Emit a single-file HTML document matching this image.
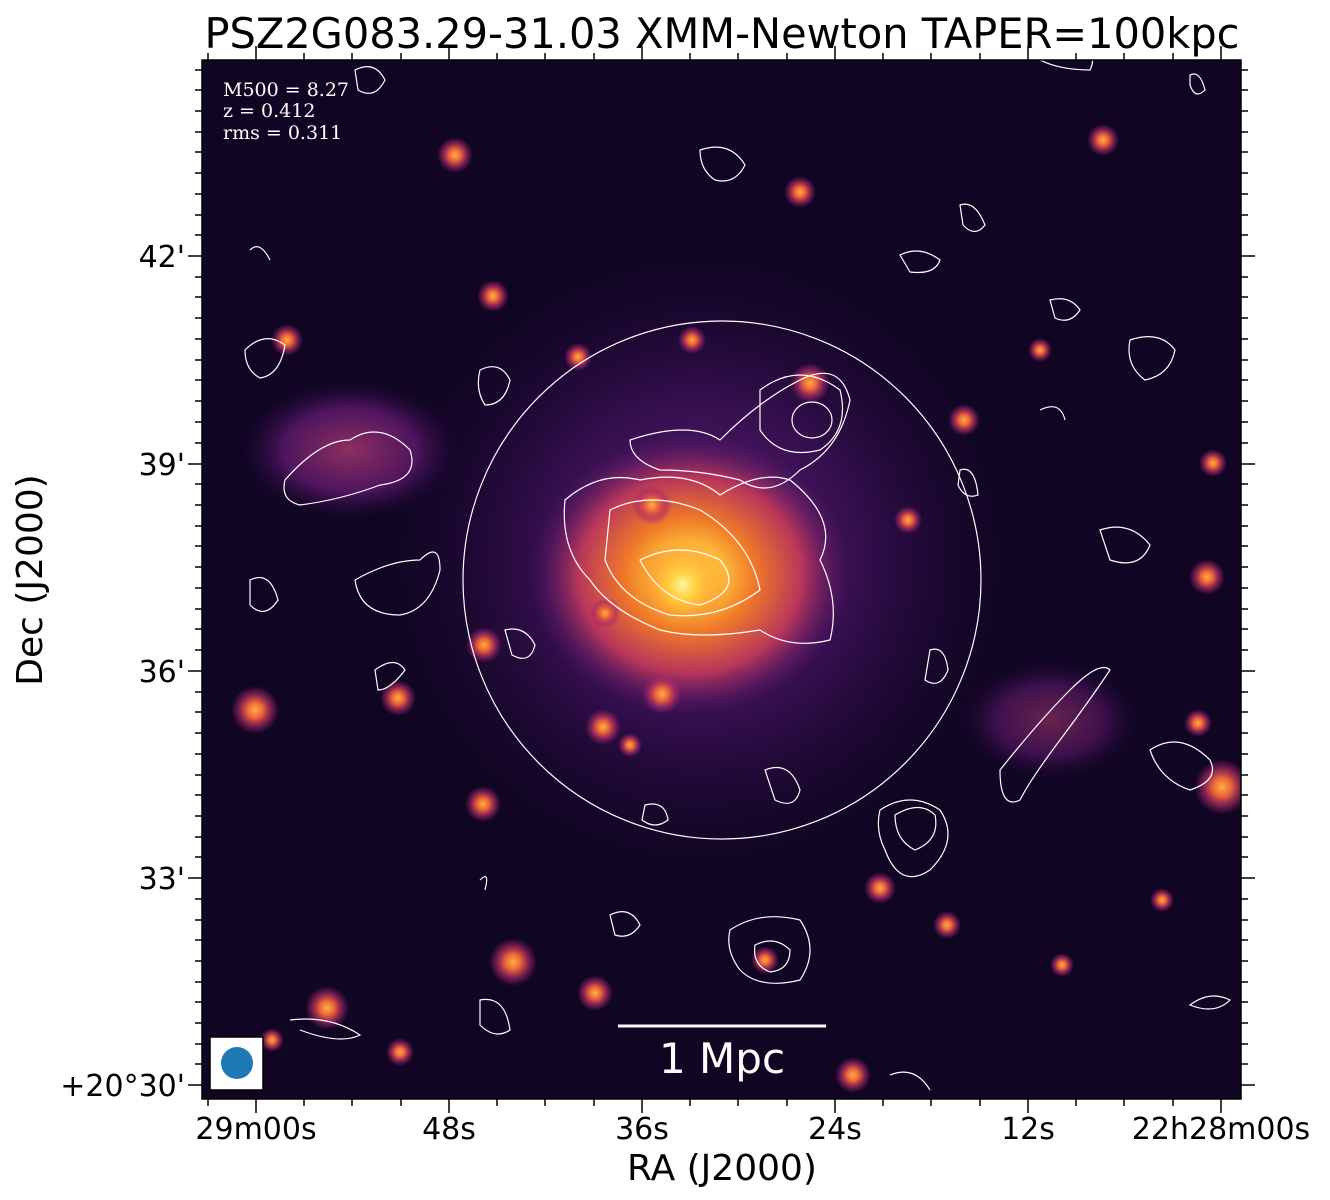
<!DOCTYPE html>
<html><head><meta charset="utf-8"><style>
body{margin:0;background:#fff;}
svg{display:block;}
</style></head><body>
<svg width="1330" height="1200" viewBox="0 0 1330 1200" xmlns="http://www.w3.org/2000/svg">
<defs>
<radialGradient id="halo"><stop offset="0" stop-color="#7a2a8a" stop-opacity="0.9"/><stop offset="0.5" stop-color="#4a1468" stop-opacity="0.6"/><stop offset="1" stop-color="#1a0630" stop-opacity="0"/></radialGradient>
<radialGradient id="core"><stop offset="0" stop-color="#fff27a"/><stop offset="0.15" stop-color="#ffd040"/><stop offset="0.4" stop-color="#f07a28"/><stop offset="0.7" stop-color="#b8365a"/><stop offset="1" stop-color="#5a1670" stop-opacity="0"/></radialGradient>
<radialGradient id="pt"><stop offset="0" stop-color="#ffb040"/><stop offset="0.35" stop-color="#e8603a"/><stop offset="0.7" stop-color="#b02a6a" stop-opacity="0.6"/><stop offset="1" stop-color="#9a2a6a" stop-opacity="0"/></radialGradient>
<radialGradient id="ptb"><stop offset="0" stop-color="#fff59a"/><stop offset="0.3" stop-color="#ffd040"/><stop offset="0.65" stop-color="#ffa030" stop-opacity="0.6"/><stop offset="1" stop-color="#f08030" stop-opacity="0"/></radialGradient>
<radialGradient id="ptd"><stop offset="0" stop-color="#c0407a"/><stop offset="0.6" stop-color="#6a1c78"/><stop offset="1" stop-color="#2a0848" stop-opacity="0"/></radialGradient>
<clipPath id="clip"><rect x="202" y="60" width="1039" height="1039"/></clipPath>
</defs>
<g clip-path="url(#clip)">
<rect x="202" y="60" width="1039" height="1039" fill="#100522"/>
<circle cx="700" cy="560" r="330" fill="url(#halo)"/>
<ellipse cx="350" cy="450" rx="110" ry="70" fill="url(#ptd)" opacity="0.7"/>
<ellipse cx="1050" cy="720" rx="90" ry="60" fill="url(#ptd)" opacity="0.5"/>
<ellipse cx="690" cy="575" rx="160" ry="140" fill="url(#core)"/>
<circle cx="683" cy="585" r="45" fill="url(#ptb)"/>
<g fill="url(#pt)">
<circle cx="455" cy="155" r="18"/><circle cx="800" cy="192" r="16"/><circle cx="493" cy="296" r="16"/>
<circle cx="287" cy="340" r="16"/><circle cx="578" cy="357" r="14"/><circle cx="692" cy="340" r="14"/>
<circle cx="810" cy="383" r="20"/><circle cx="964" cy="420" r="16"/><circle cx="1213" cy="463" r="14"/>
<circle cx="652" cy="505" r="20"/><circle cx="908" cy="520" r="14"/><circle cx="1207" cy="577" r="18"/>
<circle cx="605" cy="613" r="16"/><circle cx="484" cy="645" r="18"/><circle cx="255" cy="710" r="24"/>
<circle cx="398" cy="698" r="18"/><circle cx="662" cy="694" r="20"/><circle cx="603" cy="727" r="18"/>
<circle cx="630" cy="745" r="12"/><circle cx="1222" cy="787" r="28"/><circle cx="483" cy="804" r="18"/>
<circle cx="880" cy="888" r="16"/><circle cx="947" cy="925" r="14"/><circle cx="1198" cy="723" r="14"/>
<circle cx="513" cy="962" r="24"/><circle cx="595" cy="993" r="18"/><circle cx="327" cy="1008" r="22"/>
<circle cx="765" cy="960" r="14"/><circle cx="853" cy="1075" r="18"/><circle cx="400" cy="1052" r="14"/>
<circle cx="1103" cy="140" r="16"/><circle cx="1040" cy="350" r="12"/><circle cx="1162" cy="900" r="12"/>
<circle cx="1062" cy="965" r="12"/><circle cx="272" cy="1040" r="12"/>
</g>
<g fill="none" stroke="#fff" stroke-width="1.2">
<circle cx="722" cy="580" r="259"/>
<path d="M565 500 Q600 470 640 480 Q690 470 720 495 Q760 470 790 480 Q840 520 820 560 Q840 600 830 640 Q790 650 760 630 Q700 640 660 630 Q610 610 590 580 Q560 550 565 500Z"/>
<path d="M610 510 Q650 490 700 510 Q750 540 760 590 Q720 620 670 615 Q620 600 605 560Z"/>
<path d="M640 560 Q680 540 720 560 Q745 590 700 605 Q660 600 640 560Z"/>
<path d="M630 440 Q690 420 720 440 Q760 400 800 380 Q840 360 850 400 Q840 450 800 470 Q770 500 740 480 Q700 470 660 470 Q630 460 630 440Z"/>
<path d="M760 390 Q800 360 840 390 Q850 430 820 450 Q780 460 760 430Z"/>
<ellipse cx="812" cy="420" rx="20" ry="18"/>
<path d="M285 480 Q320 440 350 440 Q380 420 410 450 Q420 480 380 485 Q340 500 300 505 Q280 500 285 480Z"/>
<path d="M355 580 Q390 560 420 560 Q440 540 440 570 Q430 610 400 615 Q360 615 355 580Z"/>
<path d="M880 810 Q910 790 940 810 Q960 840 930 870 Q900 890 885 850 Q875 830 880 810Z"/>
<path d="M895 815 Q920 800 935 815 Q940 840 915 850 Q895 840 895 815Z"/>
<path d="M1000 770 Q1040 720 1070 690 Q1100 660 1110 670 Q1090 700 1060 740 Q1030 780 1020 800 Q1000 810 1000 770Z"/>
<path d="M1150 750 Q1180 730 1210 760 Q1220 780 1190 790 Q1160 780 1150 750Z"/>
<path d="M730 930 Q760 910 800 920 Q820 950 800 980 Q760 990 740 970 Q725 950 730 930Z"/>
<path d="M755 945 Q775 935 790 950 Q790 970 770 972 Q752 965 755 945Z"/>
<path d="M1130 340 Q1160 330 1175 350 Q1170 375 1145 380 Q1125 365 1130 340Z"/>
<path d="M1100 530 Q1130 520 1150 545 Q1140 570 1110 560Z"/>
<path d="M930 650 Q945 645 948 670 Q940 690 925 680Z"/>
<path d="M250 250 Q260 240 270 260"/>
<path d="M245 350 Q265 330 285 345 Q280 375 260 378 Q245 370 245 350Z"/>
<path d="M480 370 Q500 360 510 380 Q505 405 485 405 Q475 390 480 370Z"/>
<path d="M700 150 Q730 140 745 165 Q735 185 715 180 Q700 170 700 150Z"/>
<path d="M900 255 Q920 245 940 260 Q935 275 910 272Z"/>
<path d="M960 205 Q975 200 985 225 Q975 238 963 225Z"/>
<path d="M1050 300 Q1070 295 1080 310 Q1070 325 1055 318Z"/>
<path d="M505 630 Q525 625 535 645 Q530 665 512 655Z"/>
<path d="M765 770 Q790 760 800 790 Q795 810 775 800Z"/>
<path d="M645 805 Q665 800 668 820 Q655 830 642 820Z"/>
<path d="M480 880 Q490 870 485 890"/>
<path d="M610 915 Q630 905 640 925 Q630 940 615 935Z"/>
<path d="M480 1000 Q505 995 510 1030 Q495 1040 480 1025Z"/>
<path d="M290 1020 Q330 1015 360 1035 Q340 1045 300 1030"/>
<path d="M1190 1005 Q1210 990 1230 1000 Q1215 1015 1190 1005Z"/>
<path d="M890 1075 Q915 1065 930 1090"/>
<path d="M1190 75 Q1200 70 1205 90 Q1195 100 1190 85Z"/>
<path d="M1040 60 Q1060 70 1090 70 Q1095 60 1090 55"/>
<path d="M355 70 Q375 60 385 80 Q375 100 358 90Z"/>
<path d="M1040 410 Q1060 400 1065 420"/>
<path d="M250 580 Q270 570 278 600 Q265 620 250 605Z"/>
<path d="M375 670 Q395 655 405 670 Q390 690 378 690Z"/>
<path d="M960 470 Q975 465 978 495 Q965 500 958 485Z"/>
</g>
<g stroke="#fff" stroke-width="3"><line x1="618" y1="1026" x2="826" y2="1026"/></g>
<text x="722" y="1073" font-family="DejaVu Sans, sans-serif" font-size="42" fill="#fff" text-anchor="middle">1 Mpc</text>
<g font-family="DejaVu Serif, serif" font-size="19" fill="#fff">
<text x="223" y="96">M500 = 8.27</text><text x="223" y="117">z = 0.412</text><text x="223" y="139">rms = 0.311</text>
</g>
<rect x="210" y="1037" width="53" height="53" fill="#fff" stroke="#000" stroke-width="1.5"/>
<circle cx="237" cy="1063" r="16" fill="#1f77b4"/>
</g>
<rect x="202" y="60" width="1039" height="1039" fill="none" stroke="#000" stroke-width="1.5"/>
<g stroke="#000" stroke-width="1.5">
<path d="M188 256H202M188 464H202M188 671H202M188 878H202M188 1085H202M1241 256H1255M1241 464H1255M1241 671H1255M1241 878H1255M1241 1085H1255"/>
<path d="M256 1099V1113M449 1099V1113M642 1099V1113M835 1099V1113M1028 1099V1113M1221 1099V1113M256 46V60M449 46V60M642 46V60M835 46V60M1028 46V60M1221 46V60"/>
<path d="
M195 70H202M195 90H202M195 111H202M195 132H202M195 152H202M195 173H202M195 194H202M195 215H202M195 235H202
M195 277H202M195 297H202M195 318H202M195 339H202M195 360H202M195 380H202M195 401H202M195 422H202M195 443H202
M195 484H202M195 505H202M195 526H202M195 546H202M195 567H202M195 588H202M195 609H202M195 629H202M195 650H202
M195 692H202M195 712H202M195 733H202M195 754H202M195 775H202M195 795H202M195 816H202M195 837H202M195 857H202
M195 899H202M195 920H202M195 940H202M195 961H202M195 982H202M195 1002H202M195 1023H202M195 1044H202M195 1064H202
M1241 70H1248M1241 90H1248M1241 111H1248M1241 132H1248M1241 152H1248M1241 173H1248M1241 194H1248M1241 215H1248M1241 235H1248
M1241 277H1248M1241 297H1248M1241 318H1248M1241 339H1248M1241 360H1248M1241 380H1248M1241 401H1248M1241 422H1248M1241 443H1248
M1241 484H1248M1241 505H1248M1241 526H1248M1241 546H1248M1241 567H1248M1241 588H1248M1241 609H1248M1241 629H1248M1241 650H1248
M1241 692H1248M1241 712H1248M1241 733H1248M1241 754H1248M1241 775H1248M1241 795H1248M1241 816H1248M1241 837H1248M1241 857H1248
M1241 899H1248M1241 920H1248M1241 940H1248M1241 961H1248M1241 982H1248M1241 1002H1248M1241 1023H1248M1241 1044H1248M1241 1064H1248
M208 1099V1106M304 1099V1106M352 1099V1106M401 1099V1106M497 1099V1106M545 1099V1106M594 1099V1106M690 1099V1106M738 1099V1106M787 1099V1106M883 1099V1106M931 1099V1106M980 1099V1106M1076 1099V1106M1124 1099V1106M1173 1099V1106
M208 53V60M304 53V60M352 53V60M401 53V60M497 53V60M545 53V60M594 53V60M690 53V60M738 53V60M787 53V60M883 53V60M931 53V60M980 53V60M1076 53V60M1124 53V60M1173 53V60"/>
</g>
<g font-family="DejaVu Sans, sans-serif" font-size="30" fill="#000">
<text x="722" y="48" font-size="41.5" text-anchor="middle">PSZ2G083.29-31.03 XMM-Newton TAPER=100kpc</text>
<g text-anchor="end">
<text x="185" y="267">42'</text><text x="185" y="475">39'</text><text x="185" y="682">36'</text><text x="185" y="889">33'</text><text x="185" y="1096">+20°30'</text>
</g>
<g text-anchor="middle">
<text x="256" y="1139">29m00s</text><text x="449" y="1139">48s</text><text x="642" y="1139">36s</text><text x="835" y="1139">24s</text><text x="1028" y="1139">12s</text><text x="1221" y="1139">22h28m00s</text>
<text x="722" y="1180" font-size="36">RA (J2000)</text>
</g>
<text transform="translate(42 580) rotate(-90)" font-size="36" text-anchor="middle">Dec (J2000)</text>
</g>
</svg>
</body></html>
